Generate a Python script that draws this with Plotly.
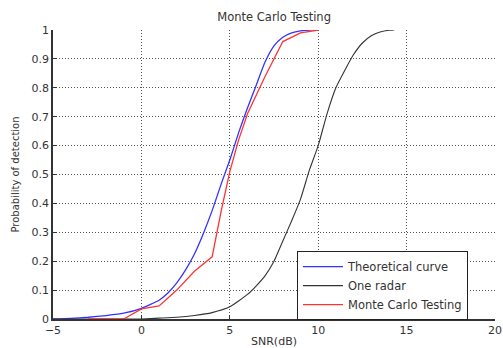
import plotly.graph_objects as go

# Theoretical curve
theo_x = [-5, -4, -3, -2, -1, 0, 1, 1.5, 2, 2.5, 3, 3.5, 4, 4.5, 5, 5.5, 6, 6.5, 7, 7.5,
          8, 8.5, 9, 9.5, 10]
theo_y = [0, 0.002, 0.006, 0.012, 0.02, 0.037, 0.065, 0.09, 0.125, 0.17, 0.225, 0.295,
          0.375, 0.465, 0.55, 0.645, 0.73, 0.81, 0.89, 0.945, 0.975, 0.99, 0.997, 1.0, 1.0]

# One radar
one_x = [-5, 0, 1, 2, 3, 4, 5, 6, 6.5, 7, 7.5, 8, 8.5, 9, 9.5, 10, 10.5, 11, 11.5, 12,
         12.5, 13, 13.5, 14, 14.3]
one_y = [0, 0, 0.003, 0.006, 0.012, 0.022, 0.042, 0.085, 0.115, 0.15, 0.2, 0.27, 0.34,
         0.415, 0.515, 0.6, 0.71, 0.8, 0.86, 0.915, 0.955, 0.98, 0.993, 0.999, 1.0]

# Monte Carlo Testing
mc_x = [-3, -1, 0, 1, 2, 3, 4, 4.5, 5, 5.5, 6, 7, 8, 9, 10]
mc_y = [0, 0, 0.035, 0.045, 0.1, 0.165, 0.215, 0.37, 0.51, 0.62, 0.71, 0.84, 0.96, 0.99, 1.0]

x_ticks = [-5, 0, 5, 10, 15, 20]
y_ticks = [0, 0.1, 0.2, 0.3, 0.4, 0.5, 0.6, 0.7, 0.8, 0.9, 1]
y_tick_text = ["0", "0.1", "0.2", "0.3", "0.4", "0.5", "0.6", "0.7", "0.8", "0.9", "1"]

fig = go.Figure()
fig.add_trace(go.Scatter(x=theo_x, y=theo_y, mode="lines", name="Theoretical curve",
                         line=dict(color="#3333ff", width=1.3, shape="spline", smoothing=0.5)))
fig.add_trace(go.Scatter(x=one_x, y=one_y, mode="lines", name="One radar",
                         line=dict(color="#333333", width=1.1, shape="spline", smoothing=0.5)))
fig.add_trace(go.Scatter(x=mc_x, y=mc_y, mode="lines", name="Monte Carlo Testing",
                         line=dict(color="#ff3333", width=1.3)))

font = "DejaVu Sans, sans-serif"
fig.update_layout(
    width=503, height=348,
    margin=dict(l=53, r=8, t=30, b=29),
    paper_bgcolor="white", plot_bgcolor="white",
    font=dict(family=font, size=11, color="#333333"),
    title=dict(text="Monte Carlo Testing", x=0.545, xanchor="center", y=0.952, yanchor="middle",
               font=dict(size=11.5, color="#333333")),
    showlegend=True,
    legend=dict(x=0.552, y=0.235, xanchor="left", yanchor="top",
                bgcolor="white", bordercolor="#222222", borderwidth=1,
                font=dict(size=11.5, color="#333333"), itemwidth=40,
                tracegroupgap=0),
)
fig.update_xaxes(range=[-5, 20], tickvals=x_ticks, showgrid=True, gridcolor="#555555",
                 griddash="1px,2px", gridwidth=1, zeroline=False, showline=True,
                 linecolor="#333333", automargin=False,
                 linewidth=1.5, ticks="inside", ticklen=4, tickcolor="#333333",
                 tickfont=dict(size=11),
                 title=dict(text="SNR(dB)", standoff=6, font=dict(size=11)))
fig.update_yaxes(range=[0, 1], tickvals=y_ticks, ticktext=y_tick_text, showgrid=True,
                 gridcolor="#555555", griddash="1px,2px", gridwidth=1, zeroline=False,
                 showline=True, linecolor="#333333", linewidth=1.5, ticks="inside",
                 ticklen=4, tickcolor="#333333", automargin=False,
                 tickfont=dict(size=11),
                 title=dict(text="Probability of detection", standoff=10, font=dict(size=10)))

fig.write_html("out.html")
